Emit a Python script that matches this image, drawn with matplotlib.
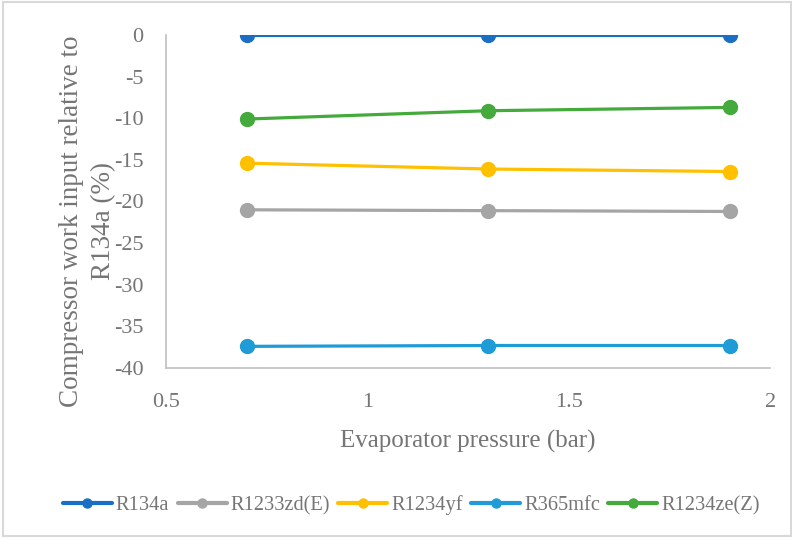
import numpy as np
import matplotlib.pyplot as plt
from matplotlib.patches import Rectangle

pressure = [0.7, 1.3, 1.9]
r134a = [0, 0, 0]
r1233zd = [-21.0, -21.1, -21.2]
r1234yf = [-15.4, -16.1, -16.4]
r365mfc = [-37.4, -37.3, -37.3]
r1234ze = [-10.1, -9.1, -8.7]

series = [
    ("R134a", r134a, "#1a6fc4"),
    ("R1233zd(E)", r1233zd, "#a5a5a5"),
    ("R1234yf", r1234yf, "#ffc000"),
    ("R365mfc", r365mfc, "#1f9bd7"),
    ("R1234ze(Z)", r1234ze, "#44aa3c"),
]

plt.rcParams['font.family'] = ['Liberation Serif', 'DejaVu Serif']
plt.rcParams['axes.unicode_minus'] = False
txt = "#757575"

fig = plt.figure(figsize=(7.94, 5.38), dpi=100)
ax = fig.add_axes([0.209, 0.316, 0.761, 0.619])

for name, vals, col in series:
    ax.plot(pressure, vals, color=col, lw=2.3, marker='o', ms=10, label=name,
            solid_capstyle='round')

ax.set_xlim(0.5, 2)
ax.set_ylim(-40, 0)
ax.set_xticks(np.arange(0.5, 2.01, 0.5))
ax.set_xticklabels(["0.5", "1", "1.5", "2"])
ax.set_yticks(np.arange(-40, 1, 5))
for s in ["top", "right"]:
    ax.spines[s].set_visible(False)
for s in ["left", "bottom"]:
    ax.spines[s].set_color("#bfbfbf")
    ax.spines[s].set_linewidth(1.2)
ax.tick_params(length=0, labelsize=16, colors=txt)
ax.tick_params(axis='y', pad=16)
ax.tick_params(axis='x', pad=18)
ax.set_xlabel("Evaporator pressure (bar)", fontsize=18, color=txt, labelpad=13)
ax.set_ylabel("Compressor work input relative to\nR134a (%)", fontsize=19.5, color=txt,
              linespacing=1.38)
ax.yaxis.set_label_coords(-0.083, 0.44)

leg = fig.legend(loc='center', bbox_to_anchor=(0.518, 0.061), ncol=5, frameon=False,
                 fontsize=14.7, handlelength=2.4, columnspacing=0.4, handletextpad=0.2,
                 markerscale=0.65)
for t in leg.get_texts():
    t.set_color(txt)
for h in leg.legend_handles:
    h.set_linewidth(3)

fig.patches.append(Rectangle((0.004, 0.004), 0.992, 0.992, transform=fig.transFigure,
                             fill=False, edgecolor="#d9d9d9", lw=1.5))

fig.savefig("out.png", dpi=100)
